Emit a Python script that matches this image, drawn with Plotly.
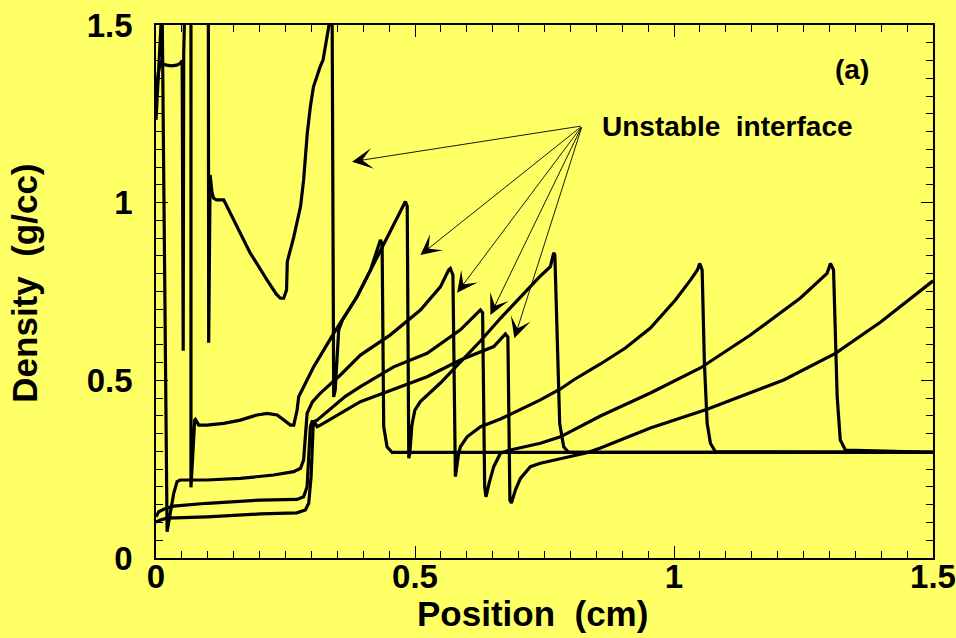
import plotly.graph_objects as go

# ---------------- data (position in cm, density in g/cc) ----------------
A_x = [0.000, 0.004, 0.0085, 0.012, 0.020, 0.030, 0.040, 0.047, 0.0505, 0.0525, 0.0535, 0.0565,
       0.1010, 0.1017, 0.1045, 0.1080, 0.1110, 0.1166, 0.1307, 0.1370, 0.1566, 0.1820, 0.2145,
       0.2320, 0.2400, 0.2465, 0.2520, 0.2530, 0.2535, 0.2660, 0.2790, 0.2850, 0.2920, 0.2980,
       0.3040, 0.3170, 0.3226, 0.3334, 0.3367, 0.3400, 0.3430, 0.3460, 0.3527, 0.3600, 0.3880,
       0.4140, 0.4332, 0.4365, 0.4396, 0.4460, 0.4558, 1.500]
A_y = [1.300, 1.360, 1.400, 1.392, 1.387, 1.385, 1.387, 1.392, 1.400, 0.583, 1.420, 1.600,
       1.600, 0.606, 1.078, 1.030, 1.013, 1.008, 1.008, 0.989, 0.932, 0.858, 0.782,
       0.743, 0.731, 0.731, 0.754, 0.782, 0.834, 0.904, 0.989, 1.064, 1.195, 1.270,
       1.326, 1.383, 1.402, 1.495, 1.560, 1.550, 0.453, 0.473, 0.642, 0.670, 0.735,
       0.810, 0.895, 0.885, 0.370, 0.313, 0.297, 0.297]

B_x = [0.0675, 0.0675, 0.0747, 0.0760, 0.0825, 0.0986, 0.1307, 0.1630, 0.1950, 0.2145, 0.2340,
       0.2465, 0.2595, 0.2660, 0.2724, 0.2755, 0.2917, 0.3044, 0.3237, 0.3430, 0.3880, 0.4268,
       0.4525, 0.4718, 0.4815, 0.4850, 0.4880, 0.4900, 0.4940, 0.4998, 0.5104, 0.5490, 0.5876,
       0.6263, 0.6650, 0.7035, 0.7421, 0.7614, 0.7678, 0.7700, 0.7793, 0.7870, 0.7967, 1.500]
B_y = [1.600, 0.199, 0.388, 0.390, 0.374, 0.374, 0.379, 0.388, 0.4025, 0.407, 0.4025,
       0.388, 0.374, 0.374, 0.4165, 0.454, 0.501, 0.538, 0.585, 0.632, 0.735, 0.848,
       0.923, 0.975, 1.003, 0.990, 0.281, 0.295, 0.374, 0.4165, 0.440, 0.4925, 0.5517,
       0.6107, 0.6746, 0.7346, 0.7937, 0.820, 0.859, 0.853, 0.379, 0.313, 0.297, 0.297]

C_x = [0.000, 0.0049, 0.0098, 0.0118, 0.0214, 0.0278, 0.0342, 0.0407, 0.0470, 0.0986, 0.1630,
       0.2270, 0.2660, 0.2790, 0.2850, 0.2917, 0.3019, 0.3174, 0.3560, 0.3946, 0.4525, 0.5104,
       0.5490, 0.5650, 0.5683, 0.5732, 0.5780, 0.5838, 0.5876, 0.6006, 0.6266, 0.6650, 0.7164,
       0.7420, 0.7807, 0.8060, 0.8579, 0.9062, 0.9544, 1.0027, 1.0317, 1.0452, 1.0496, 1.0543,
       1.0587, 1.0640, 1.0703, 1.0800, 1.500]
C_y = [1.233, 1.360, 1.500, 1.560, 0.074, 0.126, 0.182, 0.215, 0.2195, 0.2195, 0.224,
       0.2336, 0.243, 0.2525, 0.276, 0.407, 0.439, 0.464, 0.515, 0.571, 0.628, 0.698,
       0.763, 0.8106, 0.815, 0.7965, 0.229, 0.290, 0.313, 0.341, 0.3695, 0.391, 0.426,
       0.445, 0.4757, 0.501, 0.546, 0.591, 0.647, 0.726, 0.782, 0.8106, 0.829, 0.8106,
       0.548, 0.379, 0.323, 0.299, 0.297]

D_x = [0.000, 0.0052, 0.0149, 0.0340, 0.0986, 0.2015, 0.2724, 0.2850, 0.2917, 0.2950, 0.2980,
       0.3013, 0.3044, 0.3110, 0.3367, 0.3656, 0.3946, 0.4589, 0.5234, 0.5876, 0.6133, 0.6263,
       0.6305, 0.6345, 0.6370, 0.6430, 0.6520, 0.6650, 0.6840, 0.7420, 0.7807, 0.8579, 0.9544,
       1.0510, 1.1475, 1.2440, 1.2955, 1.3020, 1.3080, 1.3116, 1.3150, 1.3210, 1.3308, 1.500]
D_y = [0.116, 0.130, 0.137, 0.146, 0.154, 0.163, 0.165, 0.1725, 0.2007, 0.276, 0.3695,
       0.3836, 0.3836, 0.388, 0.420, 0.455, 0.482, 0.538, 0.576, 0.642, 0.679, 0.698,
       0.690, 0.200, 0.172, 0.210, 0.257, 0.295, 0.304, 0.323, 0.341, 0.3997, 0.4644,
       0.5348, 0.6276, 0.7318, 0.801, 0.829, 0.8106, 0.576, 0.454, 0.332, 0.304, 0.297]

E_x = [0.000, 0.0085, 0.0214, 0.0986, 0.2015, 0.2720, 0.2884, 0.2948, 0.2994, 0.3033, 0.3058,
       0.3110, 0.3174, 0.3946, 0.5234, 0.5876, 0.6520, 0.6710, 0.6745, 0.6793, 0.6832, 0.6861,
       0.6938, 0.7035, 0.7228, 0.7420, 0.8320, 0.8580, 0.9544, 1.0640, 1.2118, 1.3116, 1.3990,
       1.500]
E_y = [0.101, 0.107, 0.112, 0.116, 0.124, 0.127, 0.135, 0.154, 0.229, 0.3695, 0.3836,
       0.3695, 0.374, 0.440, 0.510, 0.557, 0.595, 0.623, 0.6305, 0.622, 0.163, 0.155,
       0.191, 0.224, 0.257, 0.2665, 0.296, 0.3096, 0.366, 0.4185, 0.501, 0.576, 0.664,
       0.780]

series = [(A_x, A_y), (B_x, B_y), (C_x, C_y), (D_x, D_y), (E_x, E_y)]

# arrows of the "Unstable interface" label: tail point and heads (data units)
arrow_tail = (0.8226, 1.216)
arrow_heads_x = [0.3786, 0.5104, 0.5813, 0.6456, 0.6919]
arrow_heads_y = [1.1154, 0.8528, 0.7467, 0.6839, 0.6184]

x_ticks = [0, 0.5, 1, 1.5]
x_tick_text = ["0", "0.5", "1", "1.5"]
y_ticks = [0, 0.5, 1, 1.5]
y_tick_text = ["0", "0.5", "1", "1.5"]

BG = "#ffff66"
FONT = "Liberation Sans"

fig = go.Figure()
for sx, sy in series:
    fig.add_trace(go.Scatter(x=sx, y=sy, mode="lines",
                             line=dict(color="black", width=3.2),
                             showlegend=False, hoverinfo="skip"))

axis_common = dict(
    showgrid=False, zeroline=False, showline=True, linecolor="black", linewidth=1.5,
    mirror="allticks", ticks="inside", ticklen=12, tickwidth=1, tickcolor="black",
    tickfont=dict(family=FONT, size=33, color="black", weight="bold"),
    minor=dict(dtick=0.05, ticks="inside", ticklen=7, tickwidth=1, tickcolor="black"),
    automargin=False,
)

fig.update_xaxes(range=[0, 1.5], tickvals=x_ticks, ticktext=x_tick_text,
                 ticklabelstandoff=-11, **axis_common)
fig.update_yaxes(range=[0, 1.5], tickvals=y_ticks, ticktext=y_tick_text,
                 ticklabelstandoff=15, **axis_common)

annotations = []
for hx, hy in zip(arrow_heads_x, arrow_heads_y):
    annotations.append(dict(x=hx, y=hy, xref="x", yref="y",
                            ax=arrow_tail[0], ay=arrow_tail[1], axref="x", ayref="y",
                            text="", showarrow=True, arrowhead=3, arrowsize=3.8,
                            arrowwidth=0.9, arrowcolor="black"))

annotations += [
    dict(text="Unstable\u00a0 interface", x=0.5715, y=0.8105, xref="paper", yref="paper",
         xanchor="left", yanchor="middle", showarrow=False,
         font=dict(family=FONT, size=28, color="black", weight="bold")),
    dict(text="(a)", x=0.8958, y=0.9156, xref="paper", yref="paper",
         xanchor="center", yanchor="middle", showarrow=False,
         font=dict(family=FONT, size=28, color="black", weight="bold")),
    dict(text="Position\u00a0 (cm)", x=0.485, y=-0.105, xref="paper", yref="paper",
         xanchor="center", yanchor="middle", showarrow=False,
         font=dict(family=FONT, size=35, color="black", weight="bold")),
    dict(text="Density\u00a0 (g/cc)", x=-0.1686, y=0.5165, xref="paper", yref="paper",
         xanchor="center", yanchor="middle", showarrow=False, textangle=-90,
         font=dict(family=FONT, size=35, color="black", weight="bold")),
]

fig.update_layout(
    width=956, height=638,
    margin=dict(l=156, r=23, t=25, b=80),
    paper_bgcolor=BG, plot_bgcolor=BG,
    annotations=annotations,
    showlegend=False,
)

fig.write_html(
    "out.html",
    config={"displayModeBar": False},
    post_script="document.body.style.margin='0';document.body.style.padding='0';"
                "document.body.style.backgroundColor='" + BG + "';"
                "document.documentElement.style.overflow='hidden';",
)
